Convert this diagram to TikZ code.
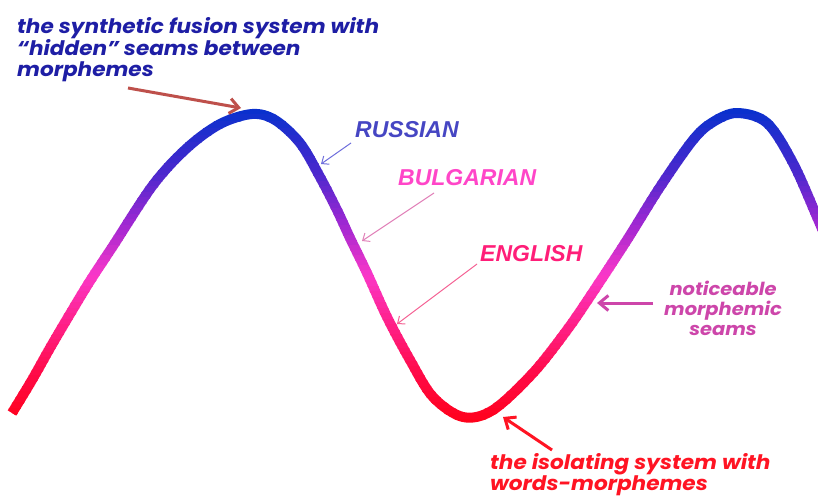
\documentclass[tikz,border=0pt]{standalone}
\usepackage{fontspec}
\usetikzlibrary{arrows.meta}
\newfontfamily\popfont{Poppins}[FakeStretch=1.08]
\newfontfamily\libfont{Liberation Sans}
\definecolor{c0}{RGB}{0,50,205}
\definecolor{c1}{RGB}{70,40,205}
\definecolor{c2}{RGB}{160,40,210}
\definecolor{c3}{RGB}{250,55,200}
\definecolor{c4}{RGB}{255,30,130}
\definecolor{c5}{RGB}{255,10,70}
\definecolor{c6}{RGB}{255,0,20}
\definecolor{topblue}{RGB}{30,30,165}
\definecolor{toparrow}{RGB}{190,80,75}
\definecolor{rustext}{RGB}{70,70,195}
\definecolor{rusarrow}{RGB}{110,110,220}
\definecolor{bultext}{RGB}{255,70,200}
\definecolor{bularrow}{RGB}{225,130,185}
\definecolor{engtext}{RGB}{255,30,120}
\definecolor{engarrow}{RGB}{245,100,150}
\definecolor{nottext}{RGB}{205,70,170}
\definecolor{isotext}{RGB}{255,20,35}
\def\wavepath{plot[smooth,tension=0.55] coordinates {(12,413) (32,380) (50,348) (70,314) (90,281) (113,246) (153,185) (187,148) (220,124) (252,114) (275,120) (300,143) (320,177) (337,210) (350,238) (367,273) (387,317) (410,360) (433,397) (463,417) (493,410) (533,373) (567,330) (593,292) (627,240) (660,187) (693,140) (713,122) (737,113) (767,123) (793,163) (817,217) (830,248)}}
\tikzset{
  wave/.style={line width=10, draw=bandc, line join=round},
  lowtext/.style={font=\popfont\bfseries\itshape\fontsize{20}{20.5}\selectfont, inner sep=0, align=left},
  captext/.style={font=\libfont\bfseries\itshape\fontsize{23}{24}\selectfont, inner sep=0},
  thinarrow/.style={line width=1, -{Straight Barb[length=6,width=10]}},
  thickarrow/.style={line width=3, -{Straight Barb[length=9,width=15]}},
}
\begin{document}
\begin{tikzpicture}[x=1pt,y=-1pt]
\useasboundingbox (0,0) rectangle (818,496);
\fill[white] (0,0) rectangle (818,496);
\foreach \ya/\yb/\ca/\cb in {100/170/c0/c1,170/225/c1/c2,225/275/c2/c3,275/330/c3/c4,330/375/c4/c5,375/430/c5/c6}{
  \foreach \k in {0,...,9}{
    \pgfmathsetmacro\yl{\ya+(\yb-\ya)*\k/10}
    \pgfmathsetmacro\yh{\ya+(\yb-\ya)*(\k+1)/10+0.7}
    \pgfmathtruncatemacro\pc{\k*10+5}
    \colorlet{bandc}{\cb!\pc!\ca}
    \begin{scope}
      \clip (-20,\yl) rectangle (840,\yh);
      \draw[wave] \wavepath;
    \end{scope}
  }
}
% texts
\node[lowtext, text=topblue, anchor=north west] (fusion) at (17,17) {the synthetic fusion system with\\“hidden” seams between\\morphemes};
\node[captext, text=rustext, anchor=base west] (russian) at (355,137) {RUSSIAN};
\node[captext, text=bultext, anchor=base west] (bulgarian) at (398,185) {BULGARIAN};
\node[captext, text=engtext, anchor=base west] (english) at (480,261) {ENGLISH};
\node[lowtext, text=nottext, align=center, anchor=north, font=\popfont\bfseries\itshape\fontsize{18}{20}\selectfont] (notice) at (723,281) {noticeable\\morphemic\\seams};
\node[lowtext, text=isotext, anchor=north west, font=\popfont\bfseries\itshape\fontsize{20}{19.5}\selectfont] (isolating) at (490,453) {the isolating system with\\words-morphemes};
% arrow end points
\coordinate (fusA) at (128,88);
\coordinate (fusB) at (241,108);
\coordinate (rusA) at (351,143);
\coordinate (rusB) at (321,164);
\coordinate (bulA) at (434,193);
\coordinate (bulB) at (362,241);
\coordinate (engA) at (477,264);
\coordinate (engB) at (397,324);
\coordinate (notA) at (653,303);
\coordinate (notB) at (597,303);
\coordinate (isoA) at (552,450);
\coordinate (isoB) at (503,417);
\draw[thickarrow, toparrow] (fusA) -- (fusB);
\draw[thinarrow, rusarrow] (rusA) -- (rusB);
\draw[thinarrow, bularrow] (bulA) -- (bulB);
\draw[thinarrow, engarrow] (engA) -- (engB);
\draw[thickarrow, nottext] (notA) -- (notB);
\draw[thickarrow, isotext] (isoA) -- (isoB);
\end{tikzpicture}
\end{document}
